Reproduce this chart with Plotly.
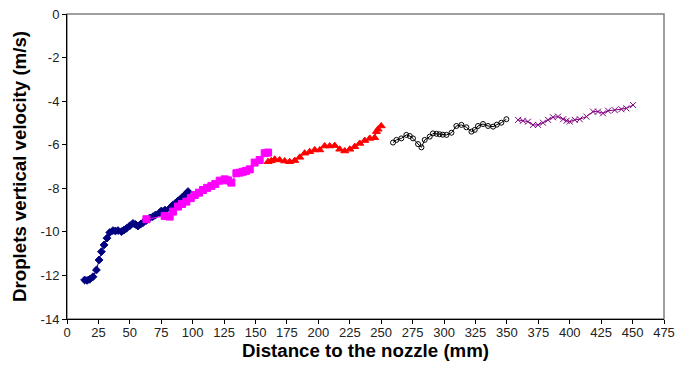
import plotly.graph_objects as go

# Series 1 (navy diamonds)
navy_x = [14, 16, 18, 20.7, 23.4, 25.5, 27.4, 29.5, 31.8, 34, 36.6, 38.5, 40.6, 43.3, 45.3, 47.3, 50, 52.5, 54.5,
          56.5, 58.5, 60.5, 63, 65.8, 68.4, 70.5, 73.8, 75.1, 78, 81.7, 84, 86, 88.3, 90.3, 92.3, 94.3, 96.3]
navy_y = [-12.21, -12.23, -12.18, -12.06, -11.75, -11.29, -10.91, -10.6, -10.29, -10.03, -9.94, -9.96, -9.94, -9.99,
          -9.92, -9.84, -9.72, -9.61, -9.66, -9.73, -9.65, -9.58, -9.48, -9.36, -9.30, -9.22, -9.12, -9.04, -9.0,
          -8.92, -8.78, -8.7, -8.58, -8.5, -8.38, -8.28, -8.15]

# Series 2 (magenta squares)
mag_x = [63.2, 77.7, 81.7, 84.3, 88.3, 91.5, 95, 98.5, 101.6, 105, 108.2, 111.5, 114.9, 118, 121.5, 125.5, 128,
         130.8, 134.8, 137.5, 140, 142.5, 145.4, 149.3, 153.3, 157.3, 160]
mag_y = [-9.42, -9.27, -9.30, -9.07, -8.84, -8.72, -8.61, -8.45, -8.31, -8.2, -8.08, -7.98, -7.89, -7.8, -7.65,
         -7.59, -7.64, -7.74, -7.31, -7.28, -7.24, -7.2, -7.13, -6.82, -6.70, -6.39, -6.36]

# Series 3 (red triangles)
red_x = [160, 162.5, 165.3, 169.2, 173.2, 177.2, 181.2, 185.2, 189.1, 193.1, 197.1, 201.1, 205, 209, 213, 217, 221,
         225, 228.9, 232.9, 236.9, 240.9, 244.8, 246.2, 247.5, 250]
red_y = [-6.78, -6.74, -6.67, -6.70, -6.75, -6.78, -6.73, -6.58, -6.39, -6.32, -6.24, -6.24, -6.06, -6.06, -6.04,
         -6.21, -6.29, -6.21, -6.09, -5.94, -5.81, -5.71, -5.68, -5.40, -5.29, -5.14]

# Series 4 (black open circles)
blk_x = [259.4, 262.1, 266, 270, 272.7, 275.3, 279.3, 282, 284.6, 288.6, 291.2, 294, 296.5, 299, 301.9, 305.9,
         309.8, 313.8, 317.8, 321.8, 324.4, 327, 331, 335, 339, 342, 345.6, 349.6]
blk_y = [-5.90, -5.78, -5.71, -5.55, -5.60, -5.71, -5.97, -6.12, -5.78, -5.63, -5.48, -5.5, -5.52, -5.54, -5.55,
         -5.45, -5.14, -5.09, -5.20, -5.40, -5.32, -5.14, -5.05, -5.14, -5.17, -5.08, -4.99, -4.83]

# Series 5 (purple crosses)
pur_x = [358.9, 362.8, 366.8, 370.8, 374.8, 378.7, 382.7, 386.7, 390.7, 394.7, 397.5, 400, 404, 408, 413.3, 418.5,
         422.5, 426.5, 430.5, 435.8, 441.1, 445.1, 450.4]
pur_y = [-4.86, -4.90, -4.94, -5.09, -5.09, -4.99, -4.86, -4.74, -4.71, -4.83, -4.9, -4.94, -4.86, -4.83, -4.71,
         -4.48, -4.48, -4.56, -4.44, -4.41, -4.37, -4.33, -4.18]

x_ticks = list(range(0, 476, 25))
y_ticks = list(range(-14, 1, 2))

fig = go.Figure()

def add(xs, ys, color, symbol, size, fill=None):
    fig.add_trace(go.Scatter(
        x=xs, y=ys, mode="lines+markers",
        line=dict(color=color, width=1),
        marker=dict(symbol=symbol, size=size, color=fill if fill else color,
                    line=dict(color=color, width=1)),
        showlegend=False, hoverinfo="x+y"))

add(navy_x, navy_y, "#000080", "diamond", 6)
add(mag_x, mag_y, "#FF00FF", "square", 7)
add(red_x, red_y, "#FF0000", "triangle-up", 7)
add(blk_x, blk_y, "#000000", "circle-open", 5)
add(pur_x, pur_y, "#800080", "x-thin-open", 6)

fig.update_layout(
    width=693, height=374,
    margin=dict(l=59, r=37, t=6, b=63),
    paper_bgcolor="white", plot_bgcolor="white",
    font=dict(family="Liberation Sans, Arial, sans-serif", size=13, color="black"),
    shapes=[dict(type="rect", xref="paper", yref="paper", x0=0, y0=0, x1=1, y1=1,
                 line=dict(color="#808080", width=1.5), layer="below")],
)
fig.update_xaxes(
    range=[0, 475], tickvals=x_ticks, ticktext=[str(t) for t in x_ticks],
    showgrid=False, zeroline=False, showline=True, linecolor="black", linewidth=1,
    ticks="outside", ticklen=4, tickcolor="black", tickfont=dict(size=13, color="#222222"),
    automargin=False, ticklabeloverflow="allow", ticklabelstandoff=-3,
    title=dict(text="<b>Distance to the nozzle (mm)</b>", font=dict(size=18.7), standoff=4),
)
fig.update_yaxes(
    range=[-14, 0], tickvals=y_ticks, ticktext=[str(t) for t in y_ticks],
    showgrid=False, zeroline=False, showline=True, linecolor="black", linewidth=1,
    ticks="outside", ticklen=4, tickcolor="black", tickfont=dict(size=13, color="#222222"),
    automargin=False, ticklabeloverflow="allow",
    title=dict(text="<b>Droplets vertical velocity (m/s)</b>", font=dict(size=18.7), standoff=9),
)

fig.write_html("out.html")
